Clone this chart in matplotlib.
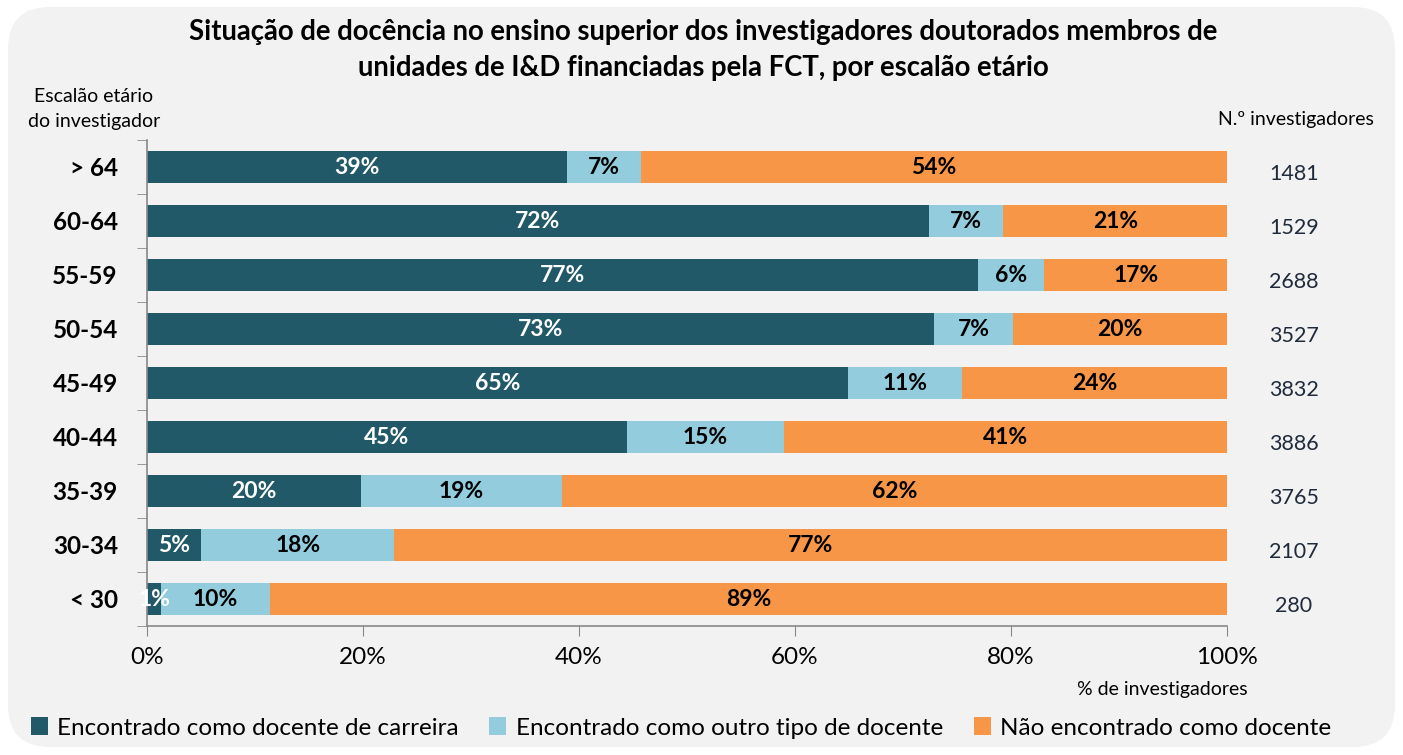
import matplotlib
matplotlib.use("Agg")
import matplotlib.pyplot as plt
from matplotlib.patches import FancyBboxPatch
import numpy as np

plt.rcParams['font.family'] = ['Lato', 'DejaVu Sans']

categories = ["> 64", "60-64", "55-59", "50-54", "45-49", "40-44", "35-39", "30-34", "< 30"]
carreira = [38.9, 72.4, 76.9, 72.9, 64.9, 44.4, 19.8, 5.0, 1.3]
outro = [6.8, 6.9, 6.2, 7.3, 10.6, 14.6, 18.6, 17.9, 10.1]
nao = [54.3, 20.7, 16.9, 19.8, 24.5, 41.0, 61.6, 77.1, 88.6]
lab_carreira = ["39%", "72%", "77%", "73%", "65%", "45%", "20%", "5%", "1%"]
lab_outro = ["7%", "7%", "6%", "7%", "11%", "15%", "19%", "18%", "10%"]
lab_nao = ["54%", "21%", "17%", "20%", "24%", "41%", "62%", "77%", "89%"]
counts = ["1481", "1529", "2688", "3527", "3832", "3886", "3765", "2107", "280"]
series_names = ["Encontrado como docente de carreira",
                "Encontrado como outro tipo de docente",
                "Não encontrado como docente"]
colors = ["#215968", "#93cddd", "#f79646"]

fig = plt.figure(figsize=(14.03, 7.55), dpi=100)
fig.patch.set_facecolor("white")
bg = FancyBboxPatch((8/1403, 8/755), 1387/1403, 740/755,
                    boxstyle="round,pad=0,rounding_size=0.03",
                    transform=fig.transFigure, facecolor="#f2f2f2",
                    edgecolor="none", mutation_aspect=1403/755, zorder=-10)
fig.patches.append(bg)

ax = fig.add_axes([147/1403, 1-626/755, 1080/1403, 486/755])
ax.set_zorder(5)
ax.set_facecolor("none")
y = np.arange(len(categories))
h = 0.58
c = np.array(carreira); o = np.array(outro); n = np.array(nao)
ax.barh(y, c, height=h, color=colors[0], label=series_names[0])
ax.barh(y, o, left=c, height=h, color=colors[1], label=series_names[1])
ax.barh(y, n, left=c+o, height=h, color=colors[2], label=series_names[2])

lf = 16.5
for i in range(len(categories)):
    ax.text(c[i]/2, y[i], lab_carreira[i], ha="center", va="center",
            color="white", fontsize=lf, fontweight="bold")
    ax.text(c[i]+o[i]/2, y[i], lab_outro[i], ha="center", va="center",
            color="black", fontsize=lf, fontweight="bold")
    ax.text(c[i]+o[i]+n[i]/2, y[i], lab_nao[i], ha="center", va="center",
            color="black", fontsize=lf, fontweight="bold")
    ax.text(106.2, y[i]+0.13, counts[i], ha="center", va="center",
            color="#1f2a3a", fontsize=15.5, clip_on=False)

ax.set_xlim(0, 100)
ax.set_ylim(len(categories)-0.5, -0.5)
ax.set_xticks([0, 20, 40, 60, 80, 100])
ax.set_xticklabels(["0%", "20%", "40%", "60%", "80%", "100%"], fontsize=17.5)
ax.set_yticks(y)
ax.set_yticklabels(categories, fontsize=17.5, fontweight="bold")
ax.tick_params(axis="y", length=0, pad=21)
ax.set_yticks(np.arange(-0.5, len(categories), 1), minor=True)
ax.tick_params(axis="y", which="minor", length=7, color="#888888", direction="out")
ax.tick_params(axis="x", length=7, color="#888888", direction="out", pad=8)
for s in ["top", "right"]:
    ax.spines[s].set_visible(False)
for s in ["left", "bottom"]:
    ax.spines[s].set_color("#888888")
    ax.spines[s].set_linewidth(1.2)

fig.text(703/1403, 1-32/755, "Situação de docência no ensino superior dos investigadores doutorados membros de",
         ha="center", va="center", fontsize=19.8, fontweight="bold")
fig.text(703/1403, 1-68/755, "unidades de I&D financiadas pela FCT, por escalão etário",
         ha="center", va="center", fontsize=19.8, fontweight="bold")
fig.text(94/1403, 1-96/755, "Escalão etário", ha="center", va="center", fontsize=14)
fig.text(94/1403, 1-122/755, "do investigador", ha="center", va="center", fontsize=14)
fig.text(1296/1403, 1-119/755, "N.º investigadores", ha="center", va="center", fontsize=14)
fig.text(1162/1403, 1-690/755, "% de investigadores", ha="center", va="center", fontsize=14)

fig.legend(loc="center", bbox_to_anchor=(681/1403, 1-728/755), ncol=3, frameon=False,
           fontsize=17.5, handlelength=0.7, handleheight=0.7, handletextpad=0.4,
           columnspacing=1.25)

fig.savefig("out.png", dpi=100, facecolor=fig.get_facecolor())
